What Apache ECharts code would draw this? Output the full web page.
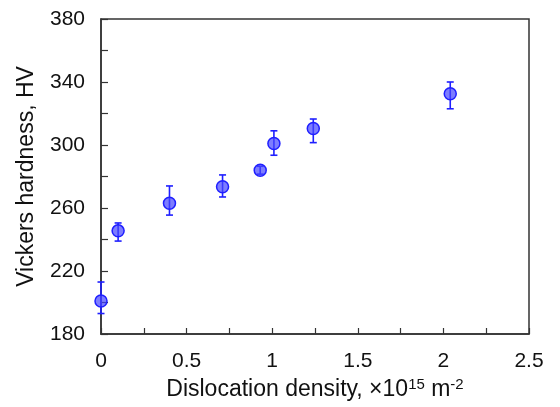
<!DOCTYPE html>
<html>
<head>
<meta charset="utf-8">
<script src="https://cdn.jsdelivr.net/npm/echarts@6/dist/echarts.min.js"></script>
<style>
  html, body { margin: 0; padding: 0; background: #fff; }
  #chart { width: 560px; height: 407px; }
</style>
</head>
<body>
<div id="chart"></div>
<script>
// Dislocation density (×10^15 m^-2) and Vickers hardness with error bounds
const density = [0, 0.1, 0.4, 0.71, 0.93, 1.01, 1.24, 2.04];
const hardness = [201, 245.5, 263, 273.5, 284, 301, 310.5, 332.5];
const hardnessLow = [193, 239, 255.5, 267, 281.5, 293.5, 301.5, 323];
const hardnessHigh = [213, 250.5, 274, 281, 286.5, 309, 316.5, 340];

const points = density.map((x, i) => [x, hardness[i]]);
const bars = density.map((x, i) => [x, hardnessLow[i], hardnessHigh[i]]);

const font = 'Liberation Sans, Arial, sans-serif';
const axisColor = '#333';
const blue = '#1f1fff';

const chart = echarts.init(document.getElementById('chart'), null, { renderer: 'canvas' });
chart.setOption({
  animation: false,
  grid: {
    left: 101, right: 31, top: 19, bottom: 73,
    show: true, borderColor: axisColor, borderWidth: 1.5, backgroundColor: 'transparent'
  },
  xAxis: {
    type: 'value', min: 0, max: 2.5, interval: 0.5,
    axisLine: { show: true, onZero: false, lineStyle: { color: axisColor, width: 1.5 } },
    axisTick: { show: true, inside: true, length: 6, lineStyle: { color: axisColor, width: 1.2 } },
    minorTick: { show: true, splitNumber: 2, length: 6, lineStyle: { color: axisColor, width: 1.2 } },
    splitLine: { show: false },
    axisLabel: { color: '#111', fontSize: 21, fontFamily: font, margin: 17 },
    name: '{a|Dislocation density, ×10}{s|15}{a| m}{s|-2}',
    nameLocation: 'middle', nameGap: 43,
    nameTextStyle: {
      rich: {
        a: { fontSize: 23, fontFamily: font, color: '#111' },
        s: { fontSize: 15, fontFamily: font, color: '#111', verticalAlign: 'top', padding: [0, 0, 10, 0] }
      }
    }
  },
  yAxis: {
    type: 'value', min: 180, max: 380, interval: 40,
    axisLine: { show: true, lineStyle: { color: axisColor, width: 1.5 } },
    axisTick: { show: true, inside: true, length: 7, lineStyle: { color: axisColor, width: 1.2 } },
    minorTick: { show: true, splitNumber: 2, length: 7, lineStyle: { color: axisColor, width: 1.2 } },
    splitLine: { show: false },
    axisLabel: { color: '#111', fontSize: 21, fontFamily: font, margin: 16 },
    name: 'Vickers hardness, HV',
    nameLocation: 'middle', nameGap: 63,
    nameTextStyle: { fontSize: 23, fontFamily: font, color: '#111' }
  },
  series: [
    {
      type: 'custom',
      data: bars,
      z: 2,
      renderItem: function (params, api) {
        const x = api.value(0);
        const lo = api.coord([x, api.value(1)]);
        const hi = api.coord([x, api.value(2)]);
        const w = 3.5;
        const style = { stroke: blue, lineWidth: 1.6, fill: null };
        return {
          type: 'group',
          children: [
            { type: 'line', shape: { x1: lo[0], y1: lo[1], x2: hi[0], y2: hi[1] }, style: style },
            { type: 'line', shape: { x1: lo[0] - w, y1: lo[1], x2: lo[0] + w, y2: lo[1] }, style: style },
            { type: 'line', shape: { x1: hi[0] - w, y1: hi[1], x2: hi[0] + w, y2: hi[1] }, style: style }
          ]
        };
      }
    },
    {
      type: 'scatter',
      data: points,
      symbol: 'circle',
      symbolSize: 12,
      z: 3,
      clip: false,
      itemStyle: { color: 'rgba(70,70,255,0.7)', borderColor: blue, borderWidth: 1.5, opacity: 1 }
    }
  ]
});
</script>
</body>
</html>
